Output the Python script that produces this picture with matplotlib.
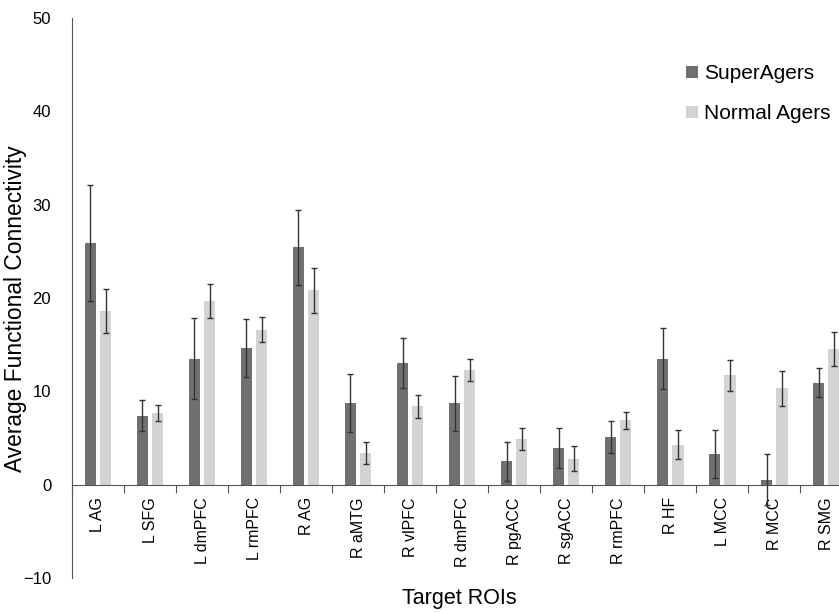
import numpy as np
import matplotlib
matplotlib.use("Agg")
import matplotlib.pyplot as plt

plt.rcParams['font.family'] = ['Liberation Sans', 'DejaVu Sans']

rois = ['L AG', 'L SFG', 'L dmPFC', 'L rmPFC', 'R AG', 'R aMTG', 'R vlPFC',
        'R dmPFC', 'R pgACC', 'R sgACC', 'R rmPFC', 'R HF', 'L MCC', 'R MCC', 'R SMG']
super_mean = [25.9, 7.4, 13.5, 14.6, 25.4, 8.7, 13.0, 8.7, 2.5, 3.9, 5.1, 13.5, 3.3, 0.55, 10.9]
super_err = [6.2, 1.65, 4.3, 3.1, 4.05, 3.1, 2.7, 2.95, 2.1, 2.15, 1.75, 3.25, 2.55, 2.7, 1.55]
normal_mean = [18.6, 7.7, 19.7, 16.6, 20.8, 3.4, 8.4, 12.3, 4.9, 2.8, 6.9, 4.3, 11.7, 10.3, 14.5]
normal_err = [2.35, 0.85, 1.8, 1.35, 2.45, 1.2, 1.25, 1.15, 1.15, 1.3, 0.9, 1.6, 1.65, 1.85, 1.8]

fig = plt.figure(figsize=(8.39, 6.13), dpi=100)
ax = fig.add_axes([0.0858, 0.057, 0.93, 0.914])

x = np.arange(len(rois))
w = 0.22
off = 0.146
ekw = dict(ecolor='#333333', elinewidth=1.0, capsize=2, capthick=1.0)
ax.bar(x - off, super_mean, w, yerr=super_err, color='#707070', label='SuperAgers',
       error_kw=ekw, zorder=2)
ax.bar(x + off, normal_mean, w, yerr=normal_err, color='#d3d3d3', label='Normal Agers',
       error_kw=ekw, zorder=2)

ax.set_xlim(-0.5, len(rois) - 0.5)
ax.set_ylim(-10, 50)
ax.set_yticks(np.arange(-10, 51, 10))
ax.tick_params(axis='y', length=0, pad=15, labelsize=12)

ax.spines['top'].set_visible(False)
ax.spines['right'].set_visible(False)
ax.spines['bottom'].set_position(('data', 0))
ax.spines['bottom'].set_color('#555555')
ax.spines['left'].set_color('#555555')

ax.set_xticks(np.arange(len(rois) + 1) - 0.5)
ax.set_xticklabels([])
ax.tick_params(axis='x', which='major', length=6, color='#555555')
ax.set_xticks(x, minor=True)
ax.set_xticklabels(rois, minor=True, rotation=90, fontsize=11.5)
ax.tick_params(axis='x', which='minor', length=0, pad=9)

fig.text(0.019, 0.497, 'Average Functional Connectivity', fontsize=16.4, rotation=90,
         ha='center', va='center')
fig.text(0.548, 0.024, 'Target ROIs', fontsize=15.5, ha='center', va='center')

fig.legend(loc='upper left', bbox_to_anchor=(0.8177, 0.895), frameon=False, fontsize=15,
           borderpad=0, borderaxespad=0, handlelength=0.55, handleheight=0.55,
           handletextpad=0.3, labelspacing=1.0)

fig.savefig('out.png', dpi=100)
